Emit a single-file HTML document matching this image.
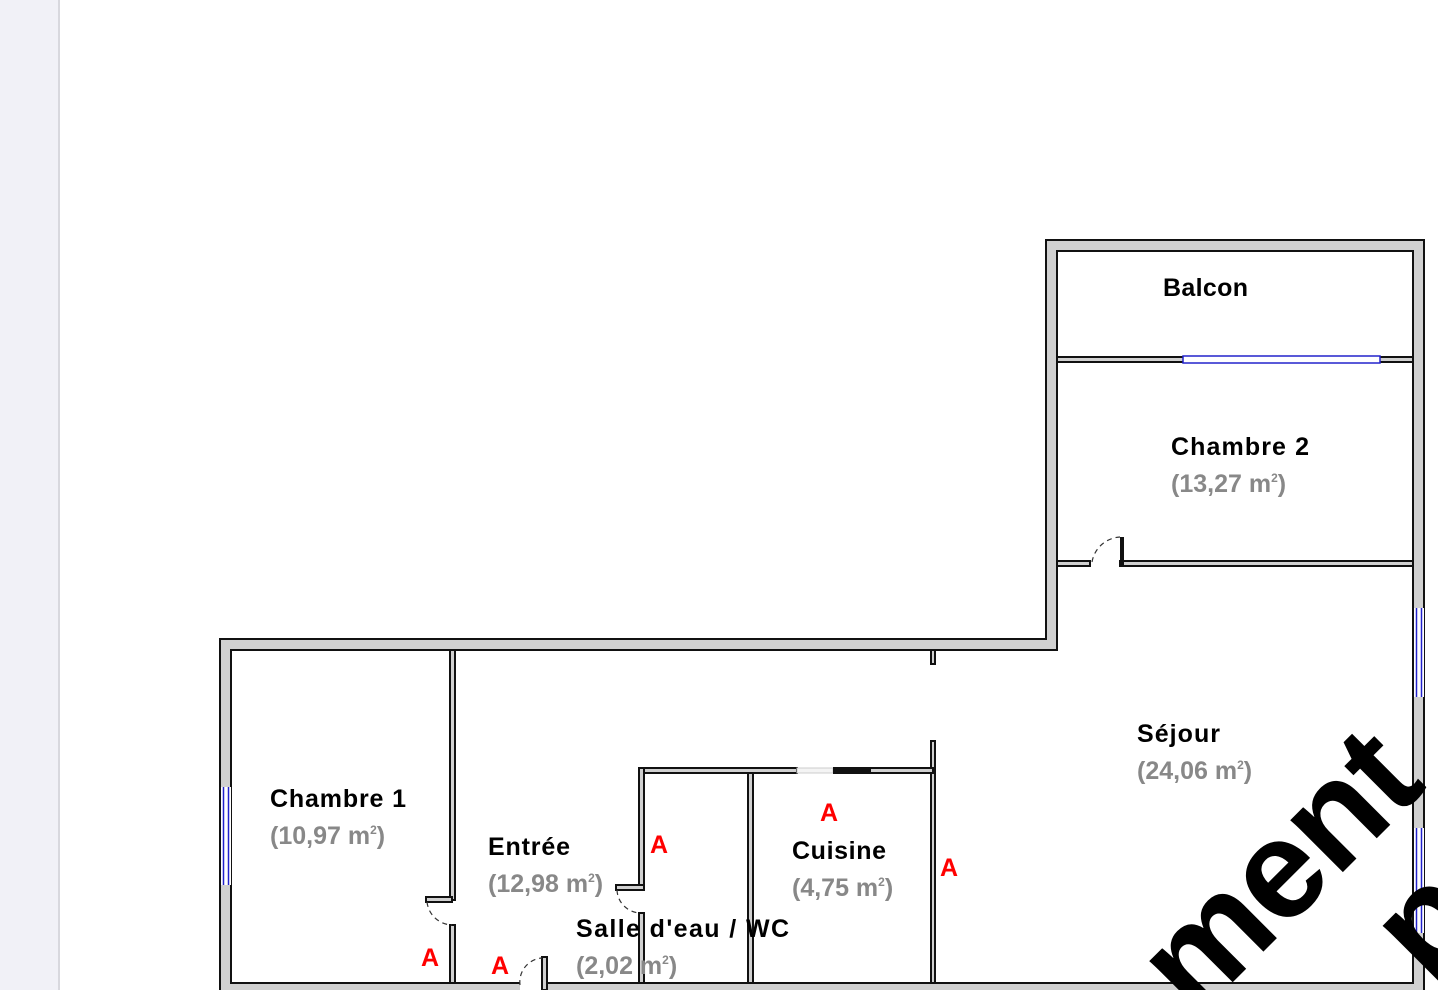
<!DOCTYPE html>
<html><head><meta charset="utf-8"><style>
html,body{margin:0;padding:0;background:#fff;overflow:hidden;width:1438px;height:990px;}
svg{display:block;overflow:hidden;}
.l{font-family:"Liberation Sans",sans-serif;font-weight:bold;font-size:25px;fill:#000;}
.a{font-family:"Liberation Sans",sans-serif;font-weight:bold;font-size:25px;fill:#888;}
.r{font-family:"Liberation Sans",sans-serif;font-weight:bold;font-size:25px;fill:#f00;}
.w{fill:#d0d0d0;stroke:#111;stroke-width:2;}
</style></head><body>
<svg width="1438" height="990" viewBox="0 0 1438 990" xmlns="http://www.w3.org/2000/svg">
<rect x="0" y="0" width="58" height="990" fill="#f1f1f7"/>
<line x1="59" y1="0" x2="59" y2="990" stroke="#d8d8de" stroke-width="2"/>
<path class="w" fill-rule="evenodd" d="M220,992 L220,639 L1046,639 L1046,240 L1424,240 L1424,992 Z M231,983 L231,650 L1057,650 L1057,251 L1413,251 L1413,983 Z"/>
<rect x="221" y="787" width="10" height="98" fill="#fff"/>
<line x1="223.5" y1="787" x2="223.5" y2="885" stroke="#22c" stroke-width="1.5"/>
<line x1="228.5" y1="787" x2="228.5" y2="885" stroke="#22c" stroke-width="1.5"/>
<rect x="1414" y="608" width="10" height="89" fill="#fff"/>
<line x1="1416.5" y1="608" x2="1416.5" y2="697" stroke="#22c" stroke-width="1.5"/>
<line x1="1421.5" y1="608" x2="1421.5" y2="697" stroke="#22c" stroke-width="1.5"/>
<rect x="1414" y="828" width="10" height="105" fill="#fff"/>
<line x1="1416.5" y1="828" x2="1416.5" y2="933" stroke="#22c" stroke-width="1.5"/>
<line x1="1421.5" y1="828" x2="1421.5" y2="933" stroke="#22c" stroke-width="1.5"/>
<rect class="w" x="1057" y="357" width="356" height="5"/>
<rect x="1183" y="356" width="197" height="7" fill="#fff" stroke="#22c" stroke-width="1.5"/>
<rect class="w" x="1057" y="561" width="33" height="5"/>
<rect class="w" x="1120" y="561" width="293" height="5"/>
<rect x="1120" y="537" width="4" height="29" fill="#111"/>
<path d="M1092,562 A30,30 0 0 1 1120,537" fill="none" stroke="#333" stroke-width="1.2" stroke-dasharray="5,4"/>
<rect class="w" x="450" y="650" width="5" height="250"/>
<rect class="w" x="426" y="897" width="26" height="5"/>
<rect class="w" x="450" y="925" width="5" height="58"/>
<path d="M427,902 A26,26 0 0 0 452,925" fill="none" stroke="#333" stroke-width="1.2" stroke-dasharray="5,4"/>
<rect class="w" x="931" y="650" width="4" height="14"/>
<rect class="w" x="931" y="741" width="4" height="242"/>
<rect class="w" x="639" y="768" width="158" height="5"/>
<rect x="797" y="768" width="36" height="5" fill="#f4f4f4" stroke="#ccc" stroke-width="1"/>
<rect x="833" y="767" width="37" height="7" fill="#111"/>
<rect class="w" x="870" y="768" width="63" height="5"/>
<rect class="w" x="639" y="768" width="5" height="122"/>
<rect class="w" x="616" y="885" width="28" height="5"/>
<rect class="w" x="639" y="913" width="5" height="70"/>
<path d="M617,890 A24,24 0 0 0 640,913" fill="none" stroke="#333" stroke-width="1.2" stroke-dasharray="5,4"/>
<rect class="w" x="748" y="773" width="5" height="210"/>
<rect x="520" y="982" width="22" height="8" fill="#fff"/>
<rect class="w" x="542" y="957" width="5" height="33"/>
<path d="M520,985 A24,24 0 0 1 542,958" fill="none" stroke="#333" stroke-width="1.2" stroke-dasharray="5,4"/>
<text class="l" x="1163" y="296" textLength="85">Balcon</text>
<text class="l" x="1171" y="455" textLength="138">Chambre 2</text>
<text class="a" x="1171" y="492">(13,27 m<tspan font-size="12" dy="-10">2</tspan><tspan dy="10">)</tspan></text>
<text class="l" x="1137" y="742" textLength="83">Séjour</text>
<text class="a" x="1137" y="779">(24,06 m<tspan font-size="12" dy="-10">2</tspan><tspan dy="10">)</tspan></text>
<text class="l" x="270" y="807" textLength="136">Chambre 1</text>
<text class="a" x="270" y="844">(10,97 m<tspan font-size="12" dy="-10">2</tspan><tspan dy="10">)</tspan></text>
<text class="l" x="488" y="855" textLength="82">Entrée</text>
<text class="a" x="488" y="892">(12,98 m<tspan font-size="12" dy="-10">2</tspan><tspan dy="10">)</tspan></text>
<text class="l" x="792" y="859" textLength="94">Cuisine</text>
<text class="a" x="792" y="896">(4,75 m<tspan font-size="12" dy="-10">2</tspan><tspan dy="10">)</tspan></text>
<text class="l" x="576" y="937" textLength="213">Salle d'eau / WC</text>
<text class="a" x="576" y="974">(2,02 m<tspan font-size="12" dy="-10">2</tspan><tspan dy="10">)</tspan></text>
<text class="r" x="421" y="966">A</text>
<text class="r" x="491" y="974">A</text>
<text class="r" x="650" y="853">A</text>
<text class="r" x="820" y="821">A</text>
<text class="r" x="940" y="876">A</text>
<g transform="translate(1195,1020) rotate(-45)">
<text x="0" y="0" font-family="Liberation Sans,sans-serif" font-weight="bold" font-size="140" fill="#000" textLength="330">ment</text>
<text x="190" y="140" font-family="Liberation Sans,sans-serif" font-weight="bold" font-size="140" fill="#000">pr</text>
</g>
</svg>
</body></html>
